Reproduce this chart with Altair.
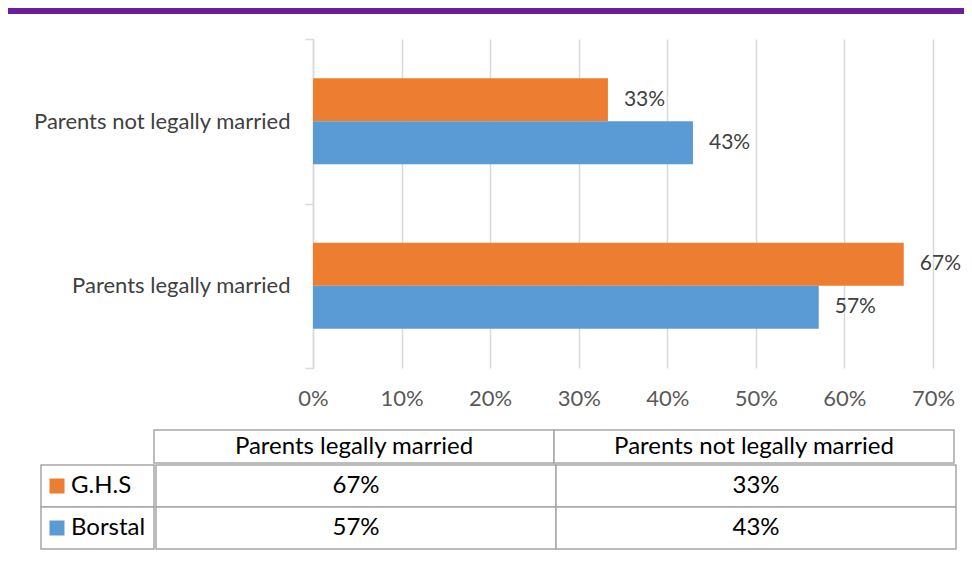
import altair as alt
import pandas as pd

# ---- data ----
categories = ["Parents not legally married", "Parents legally married"]
series = ["G.H.S", "Borstal"]
ghs_values = [0.333, 0.667]
borstal_values = [0.429, 0.571]
table_columns = ["Parents legally married", "Parents not legally married"]
x_ticks = [0, 0.1, 0.2, 0.3, 0.4, 0.5, 0.6, 0.7]
colors = ["#ED7D31", "#5B9BD5"]

rows = []
for c, g, b in zip(categories, ghs_values, borstal_values):
    rows.append({"category": c, "series": "G.H.S", "value": g})
    rows.append({"category": c, "series": "Borstal", "value": b})
df = pd.DataFrame(rows)

FONT = "Lato"
GRID = "#d9d9d9"
NOSTROKE = alt.ViewConfig(stroke="transparent", strokeWidth=0)

color_scale = alt.Scale(domain=series, range=colors)

base = alt.Chart(df).encode(
    y=alt.Y(
        "category:N",
        sort=categories,
        scale=alt.Scale(paddingInner=0, paddingOuter=0),
        axis=alt.Axis(
            title=None, tickBand="extent", ticks=True, tickSize=8,
            tickColor=GRID, tickWidth=1.5, domainColor=GRID, domainWidth=1.5,
            labelFontSize=22, labelColor="#404040", labelPadding=15,
            labelFont=FONT, grid=False, labelLimit=400,
        ),
    ),
    yOffset=alt.YOffset(
        "series:N", sort=series,
        scale=alt.Scale(paddingInner=0, paddingOuter=0.91),
    ),
    x=alt.X(
        "value:Q",
        scale=alt.Scale(domain=[0, 0.7], nice=False),
        axis=alt.Axis(
            title=None, values=x_ticks, format=".0%", grid=True,
            gridColor=GRID, gridWidth=1.5, domain=False, ticks=False,
            labelPadding=20, labelFontSize=22, labelColor="#595959",
            labelFont=FONT, labelFlush=False, labelOverlap=False,
        ),
    ),
)

bars = base.mark_bar().encode(
    color=alt.Color("series:N", scale=color_scale, legend=None)
)
labels = base.mark_text(
    align="left", baseline="middle", dx=16, fontSize=21,
    color="#404040", font=FONT,
).encode(text=alt.Text("value:Q", format=".0%"))

bar_chart = (bars + labels).properties(width=620, height=329, view=NOSTROKE)


def spacer(w, h):
    return alt.Chart(pd.DataFrame({"a": [0]})).mark_rect(opacity=0).encode(
        x=alt.value(0), x2=alt.value(w), y=alt.value(0), y2=alt.value(h)
    ).properties(width=w, height=h, view=NOSTROKE)


# purple strip
strip = alt.Chart(pd.DataFrame({"a": [0]})).mark_rect(color="#6B1E9C").encode(
    x=alt.value(0), x2=alt.value(956), y=alt.value(0), y2=alt.value(6)
).properties(width=956, height=6, view=NOSTROKE)

# ---- data table ----
trows = []
for s, vals in zip(series, [ghs_values, borstal_values]):
    for c in table_columns:
        v = vals[categories.index(c)]
        trows.append({"series": s, "category": c, "value": v})
tdf = pd.DataFrame(trows)
hdf = pd.DataFrame({"category": table_columns})
ldf = pd.DataFrame({"series": series})

BORDER = "#a6a6a6"
TFS = 24

xcol = alt.X("category:N", sort=table_columns,
             scale=alt.Scale(paddingInner=0, paddingOuter=0), axis=None)
yrow = alt.Y("series:N", sort=series,
             scale=alt.Scale(paddingInner=0, paddingOuter=0), axis=None)

header = (
    alt.Chart(hdf).mark_rect(fill="white", stroke=BORDER, strokeWidth=1.5).encode(x=xcol)
    + alt.Chart(hdf).mark_text(fontSize=TFS, font=FONT, color="#000000").encode(
        x=xcol, text="category:N")
).properties(width=800, height=33, view=NOSTROKE)

body = (
    alt.Chart(tdf).mark_rect(fill="white", stroke=BORDER, strokeWidth=1.5).encode(x=xcol, y=yrow)
    + alt.Chart(tdf).mark_text(fontSize=TFS, font=FONT, color="#000000").encode(
        x=xcol, y=yrow, text=alt.Text("value:Q", format=".0%"))
).properties(width=800, height=84, view=NOSTROKE)

legend_col = (
    alt.Chart(ldf).mark_rect(fill="white", stroke=BORDER, strokeWidth=1.5).encode(y=yrow)
    + alt.Chart(ldf).mark_square(size=225, opacity=1).encode(
        y=yrow, x=alt.value(16),
        color=alt.Color("series:N", scale=color_scale, legend=None))
    + alt.Chart(ldf).mark_text(align="left", fontSize=TFS, font=FONT, color="#000000").encode(
        y=yrow, x=alt.value(30), text="series:N")
).properties(width=113, height=84, view=NOSTROKE)

table = alt.vconcat(
    alt.hconcat(spacer(145, 33), header, spacing=0),
    alt.hconcat(spacer(32, 84), legend_col, body, spacing=0),
    spacing=0,
)

bar_row = alt.hconcat(spacer(24, 329), bar_chart, spacing=0)

chart = alt.vconcat(
    strip,
    alt.vconcat(bar_row, table, spacing=20),
    spacing=14,
).properties(padding=0).configure_view(strokeWidth=0, stroke="transparent").configure(font=FONT)

chart.save("out.html", embed_options={"renderer": "svg", "actions": False})
